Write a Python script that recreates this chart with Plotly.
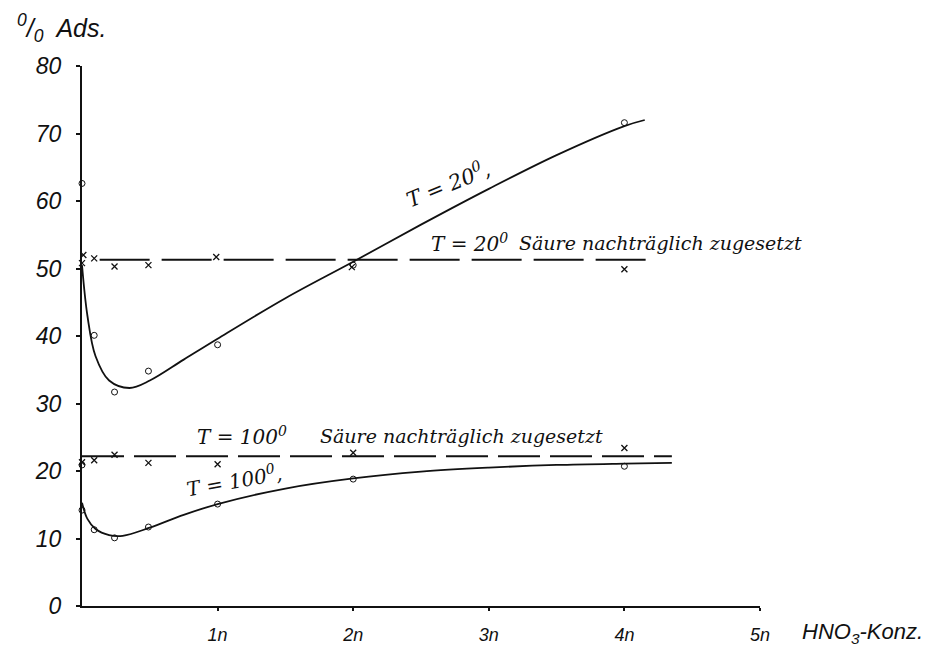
import plotly.graph_objects as go

# HNO3 concentration (n) of measured points
conc = [0, 0.09, 0.24, 0.49, 1.0, 2.0, 4.0]

# T = 20°, measured (circles)
t20_meas = [62.6, 40.1, 31.7, 34.8, 38.7, 50.5, 71.6]
# T = 20°, acid added afterwards (crosses)
t20_late_x = [0, 0.01, 0.09, 0.24, 0.49, 0.99, 1.99, 4.0]
t20_late = [50.8, 52.0, 51.5, 50.3, 50.5, 51.7, 50.2, 49.9]

# T = 100°, measured (circles)
t100_meas_x = [0, 0, 0.09, 0.24, 0.49, 1.0, 2.0, 4.0]
t100_meas = [20.9, 14.2, 11.3, 10.1, 11.7, 15.1, 18.8, 20.7]
# T = 100°, acid added afterwards (crosses)
t100_late_x = [0, 0.09, 0.24, 0.49, 1.0, 2.0, 4.0]
t100_late = [21.3, 21.6, 22.4, 21.2, 21.0, 22.7, 23.4]

# smoothed curves drawn through the data
t20_curve_x = [0, 0.04, 0.1, 0.2, 0.35, 0.5, 0.75, 1.0, 1.5, 2.0, 2.5, 3.0, 3.5, 4.0, 4.15]
t20_curve = [50.5, 43.0, 37.0, 33.4, 32.3, 33.4, 36.5, 39.6, 45.6, 51.0, 56.5, 61.8, 66.8, 71.1, 72.0]
t100_curve_x = [0, 0.04, 0.1, 0.2, 0.3, 0.5, 0.75, 1.0, 1.5, 2.0, 2.5, 3.0, 3.5, 4.0, 4.35]
t100_curve = [15.3, 12.9, 11.4, 10.5, 10.4, 11.6, 13.5, 15.1, 17.4, 18.9, 19.9, 20.5, 20.9, 21.1, 21.2]

# dashed reference levels
t20_level_x = [0.13, 4.17]
t20_level = [51.3, 51.3]
t100_level_x = [0, 4.35]
t100_level = [22.2, 22.2]

x_ticks = [1, 2, 3, 4, 5]
x_labels = ["1n", "2n", "3n", "4n", "5n"]
y_ticks = [0, 10, 20, 30, 40, 50, 60, 70, 80]

INK = "#111111"
SERIF = "DejaVu Serif"
SANS = "Liberation Sans"

fig = go.Figure()

fig.add_trace(go.Scatter(x=t20_level_x, y=t20_level, mode="lines",
                         line=dict(color=INK, width=2, dash="50px,12px"), hoverinfo="skip"))
fig.add_trace(go.Scatter(x=t100_level_x, y=t100_level, mode="lines",
                         line=dict(color=INK, width=2, dash="42px,10px"), hoverinfo="skip"))
fig.add_trace(go.Scatter(x=t20_curve_x, y=t20_curve, mode="lines", line_shape="spline",
                         line=dict(color=INK, width=1.8), hoverinfo="skip"))
fig.add_trace(go.Scatter(x=t100_curve_x, y=t100_curve, mode="lines", line_shape="spline",
                         line=dict(color=INK, width=1.8), hoverinfo="skip"))

fig.add_trace(go.Scatter(x=conc, y=t20_meas, mode="markers", cliponaxis=False,
                         marker=dict(symbol="circle-open", size=6, color=INK, line=dict(width=1))))
fig.add_trace(go.Scatter(x=t100_meas_x, y=t100_meas, mode="markers", cliponaxis=False,
                         marker=dict(symbol="circle-open", size=6, color=INK, line=dict(width=1))))
fig.add_trace(go.Scatter(x=t20_late_x, y=t20_late, mode="markers", cliponaxis=False,
                         marker=dict(symbol="x-thin-open", size=6, color=INK, line=dict(width=1.3, color=INK))))
fig.add_trace(go.Scatter(x=t100_late_x, y=t100_late, mode="markers", cliponaxis=False,
                         marker=dict(symbol="x-thin-open", size=6, color=INK, line=dict(width=1.3, color=INK))))


def note(x, y, text, size=20, angle=0, xanchor="center", font=SERIF, ref="data"):
    xr, yr = ("x", "y") if ref == "data" else ("paper", "paper")
    fig.add_annotation(x=x, y=y, xref=xr, yref=yr, text=text, showarrow=False,
                       textangle=angle, xanchor=xanchor, yanchor="middle",
                       font=dict(family=font, size=size, color=INK, style="italic"))


note(-0.099, 1.070, "<sup>0</sup>/<sub>0</sub>  Ads.", size=25, xanchor="left", font=SANS, ref="paper")
note(1.059, -0.050, "HNO<sub>3</sub>-Konz.", size=22, xanchor="left", font=SANS, ref="paper")
note(2.70, 62.6, "T = 20<sup>0</sup>,", size=21, angle=-22)
note(2.56, 53.8, "T = 20<sup>0</sup>", size=20, xanchor="left")
note(3.21, 53.8, "Säure nachträglich zugesetzt", size=19, xanchor="left")
note(0.83, 25.2, "T = 100<sup>0</sup>", size=20, xanchor="left")
note(1.74, 25.2, "Säure nachträglich zugesetzt", size=19, xanchor="left")
note(1.12, 18.6, "T = 100<sup>0</sup>,", size=20, angle=-10)

fig.update_layout(
    width=936, height=638,
    margin=dict(l=74, r=184, t=58, b=40),
    paper_bgcolor="white", plot_bgcolor="white",
    showlegend=False,
    xaxis=dict(range=[0, 5], showgrid=False, zeroline=False, showline=True, automargin=False,
               linecolor=INK, linewidth=2, ticks="outside", ticklen=3, tickwidth=1.5,
               tickcolor=INK, tickvals=x_ticks, ticktext=x_labels, ticklabelstandoff=8,
               tickfont=dict(family=SANS, size=18, color=INK, style="italic")),
    yaxis=dict(range=[0, 80], showgrid=False, zeroline=False, showline=True, automargin=False,
               linecolor=INK, linewidth=2, ticks="outside", ticklen=4, tickwidth=1.5,
               tickcolor=INK, tickvals=y_ticks, ticklabelstandoff=10,
               tickfont=dict(family=SANS, size=23, color=INK, style="italic")),
)

fig.write_html("out.html")
